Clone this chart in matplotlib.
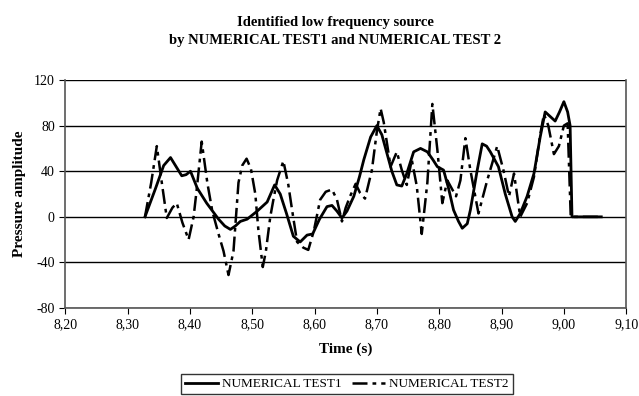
import matplotlib
matplotlib.use("Agg")
import matplotlib.pyplot as plt

plt.rcParams['font.family'] = ['Liberation Serif', 'DejaVu Serif']
plt.rcParams['axes.unicode_minus'] = False

# NUMERICAL TEST1 (solid line)
t1 = [8.328, 8.345, 8.358, 8.369, 8.378, 8.387, 8.394, 8.401, 8.412, 8.427,
      8.446, 8.456, 8.465, 8.473, 8.481, 8.492, 8.508, 8.516, 8.524, 8.536,
      8.545, 8.555, 8.566, 8.577, 8.588, 8.597, 8.608, 8.620, 8.628, 8.636,
      8.644, 8.652, 8.663, 8.672, 8.679, 8.690, 8.700, 8.708, 8.716, 8.724,
      8.732, 8.740, 8.748, 8.759, 8.770, 8.781, 8.790, 8.797, 8.807, 8.815,
      8.823, 8.831, 8.837, 8.845, 8.850, 8.856, 8.861, 8.869, 8.876, 8.882,
      8.895, 8.906, 8.917, 8.922, 8.930, 8.941, 8.952, 8.962, 8.970, 8.978,
      8.986, 8.993, 9.000, 9.006, 9.010, 9.013, 9.060]
v1 = [0, 25, 45, 52, 44, 36, 37, 40, 25, 12,
      -2, -8, -11, -8, -4, -2, 5, 9, 13, 28,
      20, 3, -17, -22, -16, -15, -2, 9, 10, 5,
      -1, 5, 18, 35, 50, 70, 80, 72, 56, 40,
      28, 27, 38, 57, 60, 57, 50, 44, 41, 25,
      6, -4, -10, -6, 6, 25, 41, 64, 62, 57,
      44, 20, 0, -4, 3, 18, 38, 70, 92, 88,
      84, 92, 101, 92, 80, 0, 0]

# NUMERICAL TEST2 (dash-dot line)
t2 = [8.328, 8.338, 8.347, 8.355, 8.363, 8.372, 8.379, 8.388, 8.398, 8.406,
      8.411, 8.419, 8.428, 8.436, 8.446, 8.454, 8.462, 8.470, 8.478, 8.484,
      8.491, 8.498, 8.505, 8.510, 8.517, 8.522, 8.529, 8.534, 8.540, 8.550,
      8.558, 8.564, 8.572, 8.582, 8.590, 8.599, 8.609, 8.618, 8.628, 8.636,
      8.644, 8.650, 8.657, 8.666, 8.673, 8.681, 8.692, 8.700, 8.706, 8.711,
      8.722, 8.732, 8.740, 8.748, 8.756, 8.764, 8.772, 8.781, 8.789, 8.797,
      8.805, 8.813, 8.820, 8.827, 8.834, 8.842, 8.850, 8.863, 8.877, 8.893,
      8.903, 8.912, 8.920, 8.930, 8.941, 8.952, 8.962, 8.968, 8.975, 8.984,
      8.992, 9.000, 9.006, 9.011, 9.060]
v2 = [0, 30, 62, 30, -1, 8, 12, -5, -20, 0,
      24, 66, 30, 5, -15, -30, -51, -30, 30, 45,
      51, 42, 20, -12, -44, -30, 0, 15, 32, 49,
      28, 6, -22, -27, -29, -12, 15, 22, 24, 15,
      -4, 8, 18, 29, 21, 16, 41, 75, 95, 83,
      44, 57, 41, 28, 50, 27, -15, 30, 99, 59,
      12, 32, 25, 18, 32, 69, 41, 3, 32, 62,
      41, 18, 38, 0, 12, 35, 72, 90, 80, 55,
      62, 80, 82, 0, 0]

x_ticks = [8.20, 8.30, 8.40, 8.50, 8.60, 8.70, 8.80, 8.90, 9.00, 9.10]
x_labels = ['8,20', '8,30', '8,40', '8,50', '8,60', '8,70', '8,80', '8,90', '9,00', '9,10']
y_ticks = [-80, -40, 0, 40, 80, 120]

fig = plt.figure(figsize=(6.39, 3.96), dpi=100)
ax = fig.add_axes([0.102, 0.222, 0.878, 0.576])

ax.plot(t1, v1, color='black', lw=2.0, label='NUMERICAL TEST1')
ax.plot(t2, v2, color='black', lw=1.8, linestyle=(0, (6, 2, 1.5, 2)),
        label='NUMERICAL TEST2')

ax.set_xlim(8.20, 9.10)
ax.set_ylim(-80, 120)
ax.set_xticks(x_ticks)
ax.set_xticklabels(x_labels)
ax.set_yticks(y_ticks)
ax.tick_params(labelsize=10, length=4, direction='out')
ax.yaxis.grid(True, color='black', lw=1.0)
ax.set_axisbelow(True)
for s in ['left', 'right', 'bottom']:
    ax.spines[s].set_color('#555555')
    ax.spines[s].set_linewidth(1.2)
ax.spines['top'].set_visible(False)

ax.set_xlabel('Time (s)', fontsize=11, fontweight='bold', labelpad=8)
ax.set_ylabel('Pressure amplitude', fontsize=11, fontweight='bold', labelpad=6)
fig.suptitle('Identified low frequency source\nby NUMERICAL TEST1 and NUMERICAL TEST 2',
             fontsize=10.5, fontweight='bold', x=0.525, y=0.96, linespacing=1.5)

leg = fig.legend(loc='center', bbox_to_anchor=(0.543, 0.03), ncol=2, fontsize=9.5,
                 frameon=True, fancybox=False, edgecolor='black', handlelength=2.5,
                 columnspacing=0.8, handletextpad=0.3, borderpad=0.3)
leg.get_frame().set_linewidth(1.0)

fig.savefig('out.png', dpi=100)
